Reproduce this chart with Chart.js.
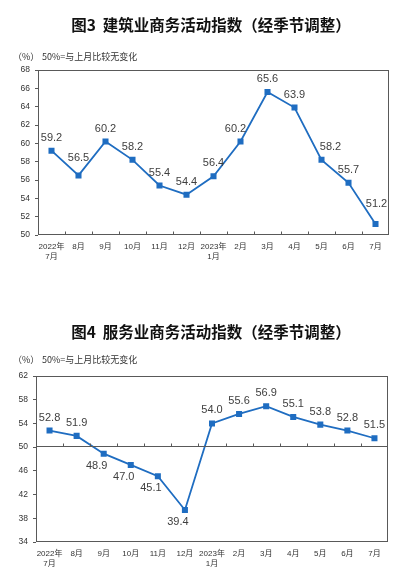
<!DOCTYPE html>
<html>
<head>
<meta charset="utf-8">
<script src="https://cdn.jsdelivr.net/npm/chart.js@4.4.0/dist/chart.umd.min.js"></script>
<style>
  html,body{margin:0;padding:0;background:#fff;}
  #wrap{position:relative;width:399px;height:582px;}
  canvas{display:block;}
</style>
</head>
<body>
<div id="wrap">
  <canvas id="c1" width="399" height="291"></canvas>
  <canvas id="c2" width="399" height="291"></canvas>
</div>
<script>
// 数据
const months=[['2022年','7月'],'8月','9月','10月','11月','12月',['2023年','1月'],'2月','3月','4月','5月','6月','7月'];
const construction=[59.2,56.5,60.2,58.2,55.4,54.4,56.4,60.2,65.6,63.9,58.2,55.7,51.2];
const services=[52.8,51.9,48.9,47.0,45.1,39.4,54.0,55.6,56.9,55.1,53.8,52.8,51.5];
const axis1={min:50,max:68,step:2};
const axis2={min:34,max:62,step:4};

const BLUE='#1f6dc1', AXIS='#595959', TXT='#333';
const FONT="'Liberation Sans','Noto Sans CJK SC',sans-serif";
const CJK="'Noto Sans CJK SC',sans-serif";

// 标题 + 单位说明
const heads={
  id:'heads',
  afterDraw(chart,args,o){
    const ctx=chart.ctx;
    ctx.save();
    ctx.fillStyle='#111'; ctx.textAlign='center'; ctx.textBaseline='middle';
    ctx.font='bold 15.5px '+CJK;
    ctx.fillText(o.title,211,o.ty);
    ctx.fillStyle=TXT; ctx.textAlign='left'; ctx.font='9px '+CJK;
    ctx.fillText('（%）',13,o.sy);
    ctx.fillText('50%=与上月比较无变化',42,o.sy);
    ctx.restore();
  }
};

// 外框 + 50 线 + 分类刻度
const frame={
  id:'frame',
  afterDatasetsDraw(chart,args,o){
    const {ctx,chartArea:a,scales:{x,y}}=chart;
    ctx.save();
    ctx.strokeStyle=AXIS; ctx.lineWidth=1;
    const L=Math.round(a.left)+.5,R=Math.round(a.right)-.5,T=Math.round(a.top)+.5,B=Math.round(a.bottom)-.5;
    ctx.strokeRect(L,T,R-L,B-T);
    const by=Math.round(y.getPixelForValue(50))-.5;
    ctx.beginPath(); ctx.moveTo(L,by); ctx.lineTo(R,by);
    for(let i=0;i<months.length-1;i++){
      const bx=Math.round((x.getPixelForValue(i)+x.getPixelForValue(i+1))/2)+.5;
      ctx.moveTo(bx,by); ctx.lineTo(bx,by-3);
    }
    ctx.stroke();
    ctx.restore();
  }
};

// 数据标签
const vals={
  id:'vals',
  afterDatasetsDraw(chart,args,o){
    const ctx=chart.ctx, meta=chart.getDatasetMeta(0), d=chart.data.datasets[0].data;
    ctx.save();
    ctx.fillStyle='#404040'; ctx.font='11px '+FONT;
    ctx.textAlign='center'; ctx.textBaseline='middle';
    meta.data.forEach((p,i)=>{
      const below=d[i]<50;
      const n=(o.nudge&&o.nudge[i])||[0,0];
      const dx=(below?-7:0)+n[0], dy=(below?12:-13)+n[1];
      ctx.fillText(d[i].toFixed(1),p.x+dx,p.y+dy);
    });
    ctx.restore();
  }
};

function make(id,data,ax,cfg){
  return new Chart(document.getElementById(id),{
    type:'line',
    data:{labels:months,datasets:[{data,borderColor:BLUE,backgroundColor:BLUE,borderWidth:1.8,
      pointStyle:'rect',pointRadius:3,pointHoverRadius:3,tension:0}]},
    options:{
      responsive:false,animation:false,
      layout:{padding:{top:cfg.top,right:cfg.right,left:0,bottom:0}},
      plugins:{legend:{display:false},tooltip:{enabled:false},
        heads:{title:cfg.title,ty:cfg.ty,sy:cfg.sy},
        vals:{nudge:cfg.nudge}},
      scales:{
        x:{offset:true,grid:{display:false,drawTicks:false},border:{display:false},
           ticks:{color:TXT,font:{size:8,family:FONT,lineHeight:1.25},padding:7,maxRotation:0,autoSkip:false},
           afterFit:s=>{s.height=cfg.xh;}},
        y:{min:ax.min,max:ax.max,border:{display:false},
           grid:{drawOnChartArea:false,drawTicks:true,tickLength:3,color:AXIS},
           ticks:{stepSize:ax.step,color:TXT,font:{size:8.5,family:FONT},padding:5},
           afterFit:s=>{s.width=cfg.yw;}}
      }
    },
    plugins:[heads,frame,vals]
  });
}

make('c1',construction,axis1,{title:'图3  建筑业商务活动指数（经季节调整）',ty:25,sy:57,
  top:70,right:10,yw:38,xh:56,nudge:{1:[0,-4],7:[-5,0],10:[9,0],12:[1,-7]}});
make('c2',services,axis2,{title:'图4  服务业商务活动指数（经季节调整）',ty:41,sy:69,
  top:85,right:11,yw:36,xh:40,nudge:{}});
</script>
</body>
</html>
